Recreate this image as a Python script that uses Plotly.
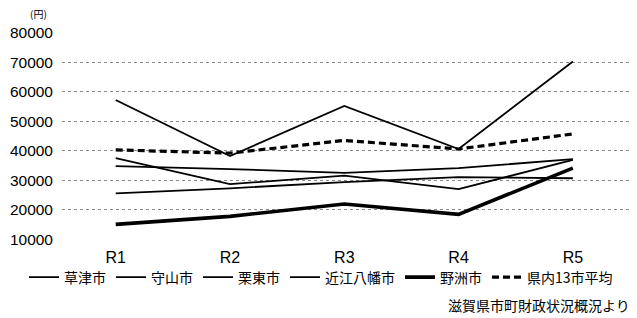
import plotly.graph_objects as go

categories = ["R1", "R2", "R3", "R4", "R5"]
kusatsu = [37500, 28700, 31600, 27000, 36900]
moriyama = [34800, 33800, 32500, 34100, 37200]
ritto = [57200, 38200, 55200, 40600, 70200]
omihachiman = [25600, 27300, 29400, 31100, 30700]
yasu = [15100, 17800, 22000, 18500, 34100]
avg13 = [40300, 39200, 43500, 40600, 45700]
y_ticks = [10000, 20000, 30000, 40000, 50000, 60000, 70000, 80000]

series = [
    ("草津市", kusatsu, dict(color="black", width=1.8)),
    ("守山市", moriyama, dict(color="black", width=1.8)),
    ("栗東市", ritto, dict(color="black", width=1.8)),
    ("近江八幡市", omihachiman, dict(color="black", width=1.8)),
    ("野洲市", yasu, dict(color="black", width=3.6)),
    ("県内13市平均", avg13, dict(color="black", width=3.2, dash="7px,4px")),
]

fig = go.Figure()
for name, vals, line in series:
    fig.add_trace(go.Scatter(x=categories, y=vals, mode="lines", name=name, line=line))

font_jp = "Noto Sans CJK JP"
fig.update_layout(
    width=637, height=318,
    margin=dict(l=62, r=7, t=32, b=78, autoexpand=False),
    paper_bgcolor="white", plot_bgcolor="white",
    font=dict(family="Liberation Sans, Arial, sans-serif", color="black", size=15),
    showlegend=True,
    legend=dict(orientation="h", x=(24 - 62) / 568, xanchor="left",
                y=(239.6 - 277) / 207.2, yanchor="middle",
                font=dict(family=font_jp, size=14, color="black"),
                itemwidth=30, tracegroupgap=0, bgcolor="rgba(0,0,0,0)", borderwidth=0),
    xaxis=dict(type="category", range=[-0.47, 4.5], showgrid=False, showline=False,
               ticks="", tickfont=dict(size=16), zeroline=False, ticklabelstandoff=6),
    yaxis=dict(range=[9800, 80200], tickvals=y_ticks, ticktext=[str(v) for v in y_ticks],
               showgrid=True, gridcolor="#8a8a8a", griddash="dot", gridwidth=1,
               zeroline=False, showline=False, ticks="", tickfont=dict(size=15.5),
               ticklabelstandoff=8),
    annotations=[
        dict(text="(円)", xref="paper", yref="paper",
             x=(38 - 62) / 568, y=(239.6 - 14) / 207.2,
             xanchor="center", yanchor="middle", showarrow=False,
             font=dict(family=font_jp, size=10, color="black")),
        dict(text="滋賀県市町財政状況概況より", xref="paper", yref="paper",
             x=(632 - 62) / 568, y=(239.6 - 304) / 207.2,
             xanchor="right", yanchor="middle", showarrow=False,
             font=dict(family=font_jp, size=14, color="black")),
    ],
)

fig.write_html("out.html", config={"displayModeBar": False},
               post_script="document.body.style.margin='0';")
